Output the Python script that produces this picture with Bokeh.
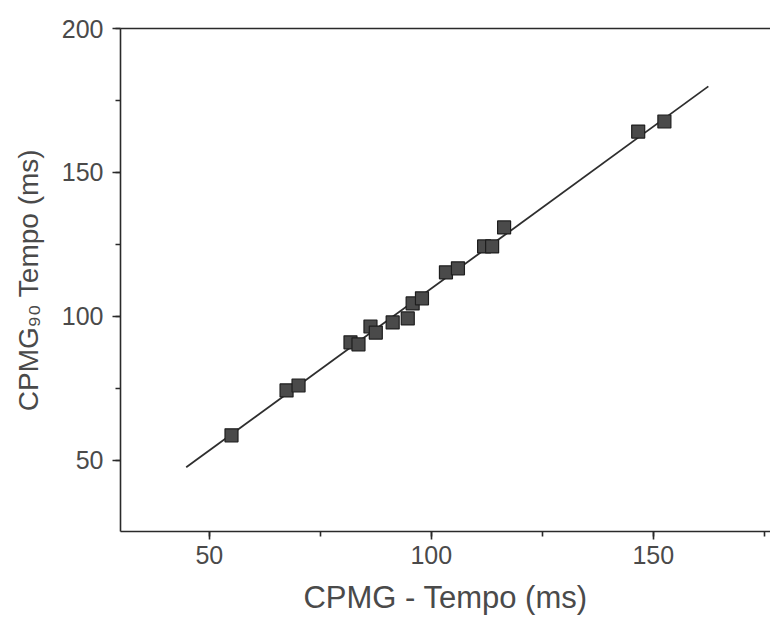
from bokeh.plotting import figure
from bokeh.models import Range1d, SingleIntervalTicker, LinearAxis, FixedTicker
from bokeh.embed import file_html
from bokeh.resources import INLINE

# Data
cpmg_x = [55.0, 67.4, 70.1, 81.8, 83.6, 86.3, 87.5, 91.3, 94.7, 95.8, 97.9,
          103.3, 106.0, 111.9, 113.7, 116.4, 146.6, 152.5]
cpmg90_y = [58.7, 74.3, 76.0, 91.0, 90.3, 96.5, 94.4, 97.9, 99.3, 104.5, 106.3,
            115.3, 116.7, 124.3, 124.3, 130.9, 164.2, 167.7]

# Fitted line end points
fit_x = [44.8, 162.4]
fit_y = [47.6, 179.9]

x_label = "CPMG - Tempo (ms)"
y_label = "CPMG\u2089\u2080 Tempo (ms)"

FONT = "Liberation Sans"
TXT = "#4a4a4a"

p = figure(width=770, height=622, output_backend="svg", toolbar_location=None,
           x_range=Range1d(30, 176.4), y_range=Range1d(25.3, 200),
           min_border_left=120, min_border_right=0, min_border_top=28,
           min_border_bottom=91)
p.outline_line_color = None
p.background_fill_color = "white"
p.border_fill_color = "white"
p.grid.visible = False

p.line(fit_x, fit_y, line_color="#2e2e2e", line_width=1.8)
p.scatter(cpmg_x, cpmg90_y, marker="square", size=13,
          fill_color="#4a4a4a", line_color="#1e1e1e", line_width=1.2)

for ax in (p.xaxis[0], p.yaxis[0]):
    ax.ticker = SingleIntervalTicker(interval=50, num_minor_ticks=2)
    ax.axis_line_color = "#2a2a2a"
    ax.axis_line_width = 1.6
    ax.major_tick_line_color = "#2a2a2a"
    ax.minor_tick_line_color = "#2a2a2a"
    ax.major_tick_line_width = 1.6
    ax.minor_tick_line_width = 1.6
    ax.major_tick_in = 0
    ax.major_tick_out = 8
    ax.minor_tick_in = 0
    ax.minor_tick_out = 5
    ax.major_label_text_font = FONT
    ax.major_label_text_font_size = "25px"
    ax.major_label_text_color = TXT
    ax.axis_label_text_font = FONT
    ax.axis_label_text_font_style = "normal"
    ax.axis_label_text_color = TXT

p.xaxis[0].axis_label = x_label
p.xaxis[0].axis_label_text_font_size = "31px"
p.xaxis[0].major_label_standoff = 6
p.xaxis[0].axis_label_standoff = 13
p.yaxis[0].axis_label = y_label
p.yaxis[0].axis_label_text_font_size = "28px"
p.yaxis[0].major_label_standoff = 9
p.yaxis[0].axis_label_standoff = 15

top = LinearAxis(ticker=FixedTicker(ticks=[]), major_tick_line_color=None,
                 minor_tick_line_color=None, axis_line_color="#2a2a2a",
                 axis_line_width=1.6, major_tick_out=0, minor_tick_out=0,
                 major_label_standoff=0)
p.add_layout(top, "above")

open("out.html", "w").write(file_html(p, INLINE))
